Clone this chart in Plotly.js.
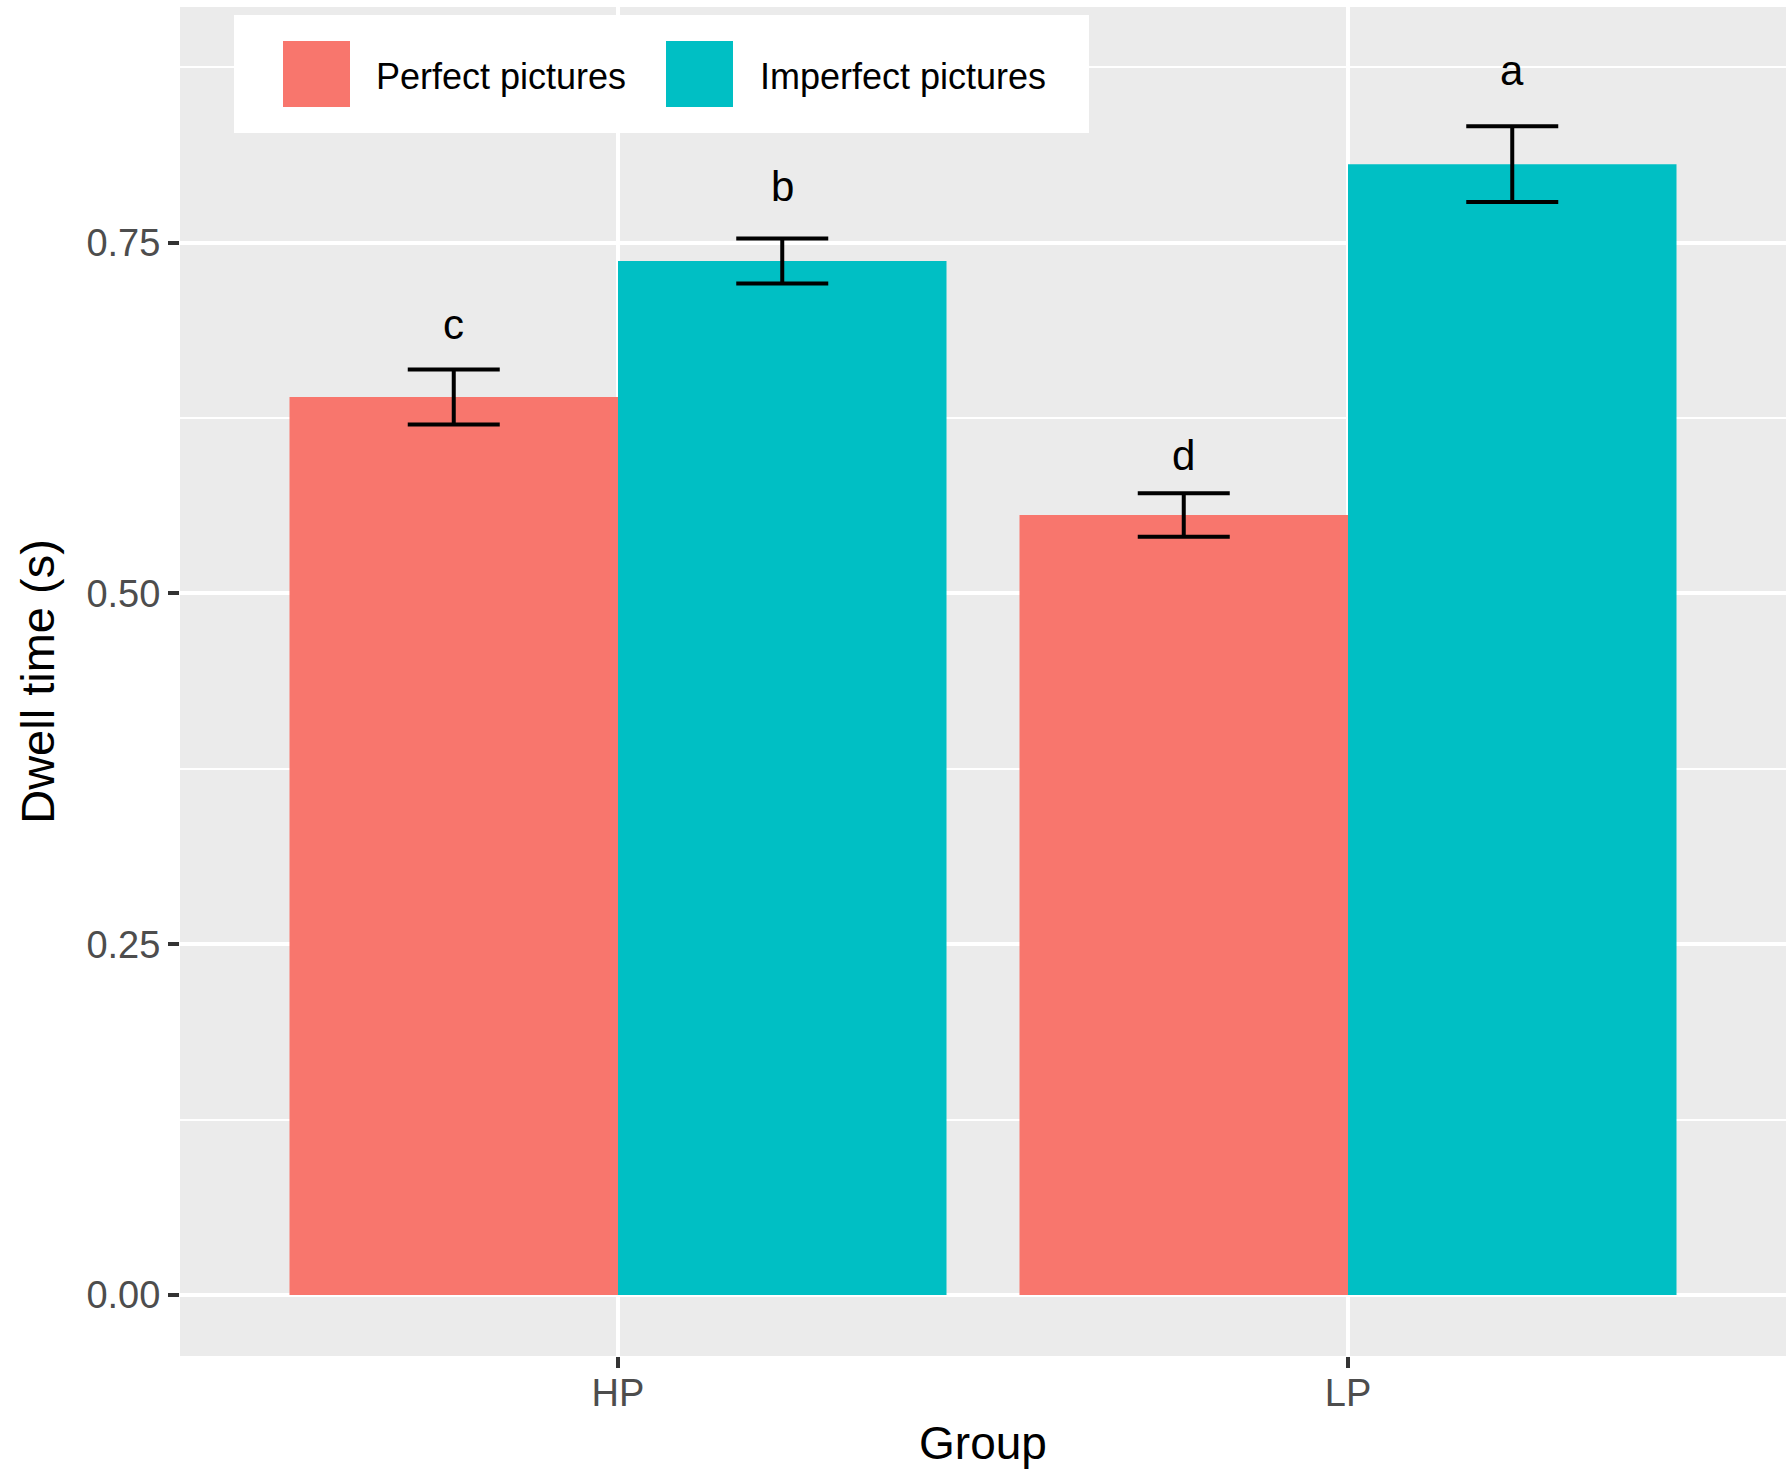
<!DOCTYPE html>
<html>
<head>
<meta charset="utf-8">
<script src="https://cdn.plot.ly/plotly-3.0.1.min.js"></script>
<style>
  body { margin: 0; background: #fff; }
  #chart { width: 1792px; height: 1480px; }
</style>
</head>
<body>
<div id="chart"></div>
<script>
var groups = ['HP', 'LP']
var seriesNames = ['Perfect pictures', 'Imperfect pictures']
var perfectMean = [0.640, 0.556]
var perfectErr = [0.0196, 0.0155]
var imperfectMean = [0.737, 0.806]
var imperfectErr = [0.016, 0.027]
var perfectLetters = ['c', 'd']
var imperfectLetters = ['b', 'a']
var perfectLabelY = [0.692, 0.598]
var imperfectLabelY = [0.790, 0.873]
var yTickVals = [0, 0.25, 0.5, 0.75]
var yTickText = ['0.00', '0.25', '0.50', '0.75']

var colours = ['#F8766D', '#00BFC4']
var font = 'Liberation Sans, Arial, sans-serif'
var margin = { l: 180, r: 6, t: 7, b: 124 }
var plotW = 1792 - margin.l - margin.r
var plotH = 1480 - margin.t - margin.b

// pixel position inside the figure -> paper coordinates
function px(x) { return (x - margin.l) / plotW }
function py(y) { return (margin.t + plotH - y) / plotH }

function barTrace(name, means, errs, colour) {
  return {
    type: 'bar',
    name: name,
    x: groups,
    y: means,
    marker: { color: colour, line: { width: 0 } },
    error_y: {
      type: 'data',
      array: errs,
      visible: true,
      color: '#000000',
      thickness: 4,
      width: 46
    },
    showlegend: false,
    hoverinfo: 'x+y+name'
  }
}

var data = [
  barTrace(seriesNames[0], perfectMean, perfectErr, colours[0]),
  barTrace(seriesNames[1], imperfectMean, imperfectErr, colours[1])
]

// dodge offset of each bar from its group centre (width 0.9 split in two)
var dodge = 0.225
var annotations = []
function addLetters(letters, ys, offset) {
  for (var i = 0; i < letters.length; i++) {
    annotations.push({
      x: i + offset, y: ys[i], xref: 'x', yref: 'y',
      text: letters[i], showarrow: false,
      xanchor: 'center', yanchor: 'middle',
      font: { family: font, size: 42, color: '#000000' }
    })
  }
}
addLetters(perfectLetters, perfectLabelY, -dodge)
addLetters(imperfectLetters, imperfectLabelY, dodge)

// legend drawn by hand so the keys get ggplot's big squares
var shapes = [
  { type: 'rect', xref: 'paper', yref: 'paper', x0: px(234), x1: px(1089), y0: py(133), y1: py(15),
    fillcolor: '#FFFFFF', line: { width: 0 }, layer: 'above' },
  { type: 'rect', xref: 'paper', yref: 'paper', x0: px(283), x1: px(350), y0: py(107), y1: py(41),
    fillcolor: colours[0], line: { width: 0 }, layer: 'above' },
  { type: 'rect', xref: 'paper', yref: 'paper', x0: px(666), x1: px(733), y0: py(107), y1: py(41),
    fillcolor: colours[1], line: { width: 0 }, layer: 'above' }
]
annotations.push({
  x: px(374), y: py(77), xref: 'paper', yref: 'paper', text: seriesNames[0],
  showarrow: false, xanchor: 'left', yanchor: 'middle',
  font: { family: font, size: 36, color: '#000000' }
})
annotations.push({
  x: px(758), y: py(77), xref: 'paper', yref: 'paper', text: seriesNames[1],
  showarrow: false, xanchor: 'left', yanchor: 'middle',
  font: { family: font, size: 36, color: '#000000' }
})

var layout = {
  width: 1792,
  height: 1480,
  margin: margin,
  paper_bgcolor: '#FFFFFF',
  plot_bgcolor: '#EBEBEB',
  barmode: 'group',
  bargap: 0.1,
  bargroupgap: 0,
  showlegend: false,
  font: { family: font },
  xaxis: {
    type: 'category',
    range: [-0.6, 1.6],
    showgrid: true,
    gridcolor: '#FFFFFF',
    gridwidth: 4,
    zeroline: false,
    showline: false,
    ticks: 'outside',
    ticklen: 11,
    tickwidth: 4,
    tickcolor: '#333333',
    ticklabelstandoff: -8,
    tickfont: { family: font, size: 38, color: '#4D4D4D' },
    title: { text: 'Group', font: { family: font, size: 46, color: '#000000' }, standoff: 14 }
  },
  yaxis: {
    range: [-0.0435, 0.918],
    tickvals: yTickVals,
    ticktext: yTickText,
    showgrid: true,
    gridcolor: '#FFFFFF',
    gridwidth: 4,
    minor: { tick0: 0.125, dtick: 0.25, showgrid: true, gridcolor: '#FFFFFF', gridwidth: 2, ticks: '' },
    zeroline: false,
    showline: false,
    ticks: 'outside',
    ticklen: 11,
    tickwidth: 4,
    tickcolor: '#333333',
    tickfont: { family: font, size: 38, color: '#4D4D4D' },
    title: { text: 'Dwell time (s)', font: { family: font, size: 47, color: '#000000' }, standoff: 16 }
  },
  shapes: shapes,
  annotations: annotations
}

Plotly.newPlot('chart', data, layout, { displayModeBar: false, staticPlot: true })
</script>
</body>
</html>
